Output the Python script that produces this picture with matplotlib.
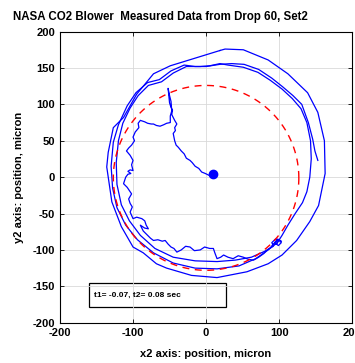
import numpy as np
import matplotlib
matplotlib.use("Agg")
import matplotlib.pyplot as plt

matplotlib.rcParams['font.family'] = ['Liberation Sans', 'DejaVu Sans']
matplotlib.rcParams['font.weight'] = 'bold'
matplotlib.rcParams['axes.unicode_minus'] = False

# inner wiggly trace (starts at the centre blob)
inner_x = [5, -1, -6, -10, -15, -19, -22, -27, -30, -34, -38, -41, -43, -44, -45,
           -42, -43, -40, -43, -45, -47, -46, -48, -50, -52,
           -50, -48, -47, -49, -49, -54, -58, -63, -68, -72, -75, -80, -84, -90,
           -93, -92, -97, -100, -98, -102, -106, -109, -104, -100, -102, -100,
           -104, -107, -103, -107, -110, -113, -108, -102, -106, -104, -101, -104,
           -100, -95, -88, -84, -82, -79, -84, -90, -86, -80, -76, -72, -66, -60,
           -56, -52, -48, -44, -40, -34, -28, -22, -16, -8, -2, 5, 10, 12, 15, 20,
           24, 30, 37, 44, 51, 58, 65, 72, 79, 84, 88, 92, 96, 100, 97, 92, 90,
           95, 100, 103, 99, 94, 98, 103]
inner_y = [2, 5, 7, 12, 15, 20, 23, 26, 32, 36, 41, 44, 50, 55, 60,
           64, 68, 73, 78, 82, 86, 92, 96, 102, 122,
           112, 104, 91, 84, 75, 74, 72, 70, 71, 73, 73, 74, 76, 78,
           74, 68, 62, 55, 50, 44, 40, 36, 30, 23, 17, 9,
           10, 8, 5, 4, 0, -9, -14, -23, -30, -36, -41, -48,
           -57, -55, -57, -60, -66, -71, -70, -66, -74, -80, -84, -87, -86, -88,
           -87, -92, -96, -98, -103, -100, -95, -96, -101, -100, -96, -98, -98, -104, -112, -110,
           -107, -110, -112, -108, -110, -113, -114, -110, -105, -100, -97, -92, -88, -86, -91, -94, -90,
           -85, -87, -90, -94, -90, -85, -88]

# middle loop A
midA_x = [97, 104, 112, 122, 132, 138, 142, 144, 143, 138, 130, 118, 104, 88, 71,
          51, 30, 19, 5, -8, -27, -45, -61, -79, -93, -104, -114, -120, -123,
          -122, -116, -105, -90, -70, -45, -15, 15, 40, 62, 80, 92]
midA_y = [-91, -80, -66, -50, -35, -20, 0, 25, 50, 75, 94, 108, 121, 133, 144,
          151, 154, 156, 153, 152, 152, 143, 131, 126, 112, 95, 74, 50, 20,
          -10, -38, -60, -80, -98, -110, -115, -116, -114, -110, -102, -95]

# middle loop B (ends at right side)
midB_x = [153, 149, 146, 140, 131, 119, 105, 90, 72, 52, 35, 19, 0, -15, -30,
          -48, -64, -80, -96, -108, -120, -127, -130, -128, -122, -110, -94,
          -72, -45, -15, 15, 45, 68, 85, 97]
midB_y = [23, 36, 52, 75, 100, 112, 124, 136, 148, 155, 156, 155, 152, 152, 154,
          146, 134, 130, 116, 98, 72, 48, 15, -15, -42, -66, -86,
          -104, -118, -125, -126, -122, -112, -100, -90]

# outer loop
outer_x = [19, 26, 51, 85, 112, 139, 153, 162, 163, 154, 142, 124, 104, 85, 56,
           15, -20, -54, -68, -86, -100, -116, -129, -136, -134, -127, -113,
           -95, -72, -49, 19]
outer_y = [174, 176, 175, 161, 142, 116, 89, 50, 5, -39, -61, -87, -107, -119, -130,
           -138, -135, -125, -119, -104, -96, -68, -34, 14, 34, 68, 82,
           114, 142, 153, 174]

blob_x, blob_y = [10], [5]

# fitted circle
circ_cx, circ_cy, circ_r = 0, -1, 127

fig = plt.figure(figsize=(3.55, 3.63), dpi=100)
ax = fig.add_axes([0.169, 0.111, 0.823, 0.802])

blue = '#0000ff'
for xs, ys in [(outer_x, outer_y), (midA_x, midA_y), (midB_x, midB_y), (inner_x, inner_y)]:
    ax.plot(xs, ys, color=blue, lw=0.9)
ax.plot(blob_x, blob_y, 'o', color=blue, ms=6)

t = np.linspace(0, 2 * np.pi, 300)
ax.plot(circ_cx + circ_r * np.cos(t), circ_cy + circ_r * np.sin(t), '--', color='#ff0000',
        lw=1.0, dashes=(5, 4))

ax.set_xlim(-200, 200)
ax.set_ylim(-200, 200)
ax.set_xticks([-200, -100, 0, 100, 200])
ax.set_yticks([-200, -150, -100, -50, 0, 50, 100, 150, 200])
ax.grid(True, color='#d9d9d9', lw=0.6)
ax.tick_params(direction='in', top=True, right=True, labelsize=8, length=3, width=0.6)
for lab in ax.get_xticklabels() + ax.get_yticklabels():
    lab.set_fontweight('bold')
for s in ax.spines.values():
    s.set_linewidth(0.8)

# annotation box
ax.add_patch(plt.Rectangle((-160, -178), 187, 32, fill=False, ec='black', lw=0.9))
ax.text(-153, -162, 't1= -0.07, t2= 0.08 sec', fontsize=6, fontweight='bold', va='center')

ax.set_xlabel('x2 axis: position, micron', fontsize=8, fontweight='bold', labelpad=8)
ax.set_ylabel('y2 axis: position, micron', fontsize=8, fontweight='bold', labelpad=6)
fig.text(0.037, 0.952, 'NASA CO2 Blower  Measured Data from Drop 60, Set2', fontsize=8.3,
         fontweight='bold', va='center')

fig.savefig('out.png', dpi=100)
